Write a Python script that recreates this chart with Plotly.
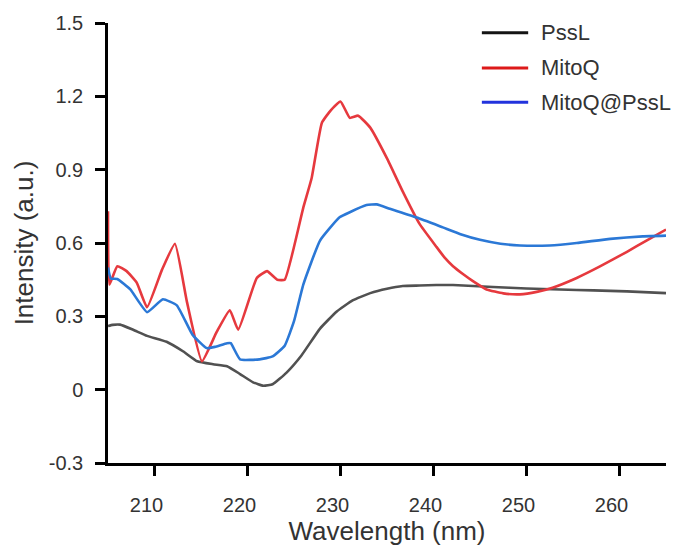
import plotly.graph_objects as go

# CD-style spectra: wavelength (nm) vs intensity (a.u.)
pssl_wl = [205.0, 205.5, 206.3, 207.7, 209.2, 211.3, 213.1, 214.6, 216.3, 217.8,
           219.2, 220.6, 221.7, 222.7, 224.2, 225.8, 227.8, 229.6, 231.3, 233.2,
           235.0, 236.7, 238.5, 240.3, 242.1, 246.4, 250.0, 253.6, 257.2, 260.8, 265.0]
pssl_int = [0.26, 0.265, 0.266, 0.245, 0.22, 0.196, 0.156, 0.116, 0.104, 0.096,
            0.064, 0.03, 0.016, 0.022, 0.07, 0.14, 0.25, 0.32, 0.365, 0.395,
            0.413, 0.424, 0.426, 0.428, 0.428, 0.42, 0.414, 0.41, 0.406, 0.402, 0.395]

mitoq_wl = [205.0, 205.15, 206.0, 207.0, 208.1, 209.2, 210.8, 212.2, 213.5, 215.1,
            216.7, 218.1, 219.0, 221.0, 222.1, 223.2, 224.0, 226.0, 226.9, 228.0,
            229.0, 230.0, 231.0, 231.9, 233.2, 235.0, 236.7, 238.5, 240.3, 241.2,
            242.1, 243.2, 244.2, 245.7, 247.5, 249.3, 251.1, 252.8, 255.4, 257.9,
            260.8, 262.9, 265.0]
mitoq_int = [0.73, 0.43, 0.505, 0.485, 0.437, 0.337, 0.49, 0.597, 0.357, 0.116,
             0.237, 0.325, 0.245, 0.457, 0.485, 0.45, 0.45, 0.745, 0.866, 1.092,
             1.145, 1.179, 1.112, 1.121, 1.072, 0.946, 0.81, 0.678, 0.585, 0.54,
             0.505, 0.472, 0.445, 0.41, 0.394, 0.39, 0.4, 0.417, 0.457, 0.504,
             0.564, 0.61, 0.655]

combo_wl = [205.0, 205.3, 206.0, 207.4, 209.2, 210.9, 212.4, 214.1, 215.6, 216.5,
            217.8, 218.2, 219.2, 221.3, 222.7, 224.0, 225.0, 226.0, 227.8, 229.9,
            231.0, 232.8, 233.9, 235.3, 238.2, 241.0, 243.0, 245.0, 247.2, 249.3,
            252.5, 255.4, 259.0, 262.5, 265.0]
combo_int = [0.50, 0.455, 0.453, 0.41, 0.317, 0.37, 0.345, 0.224, 0.17, 0.175,
             0.19, 0.19, 0.124, 0.124, 0.136, 0.18, 0.28, 0.43, 0.61, 0.705,
             0.726, 0.755, 0.758, 0.74, 0.704, 0.664, 0.635, 0.613, 0.597, 0.59,
             0.59, 0.6, 0.617, 0.627, 0.63]

series_names = ["PssL", "MitoQ", "MitoQ@PssL"]
line_colors = ["#515151", "#e6393e", "#2b78d6"]
legend_colors = ["#141414", "#dd1a1a", "#2233dd"]

x_ticks = [210, 220, 230, 240, 250, 260]
y_ticks = [-0.3, 0, 0.3, 0.6, 0.9, 1.2, 1.5]
y_tick_text = ["-0.3", "0", "0.3", "0.6", "0.9", "1.2", "1.5"]

FONT = "Liberation Sans, Arial, sans-serif"
TEXT = "#333333"

fig = go.Figure()
for wl, vals, name, color in zip([pssl_wl, mitoq_wl, combo_wl],
                                 [pssl_int, mitoq_int, combo_int],
                                 series_names, line_colors):
    fig.add_trace(go.Scatter(x=wl, y=vals, mode="lines", name=name,
                             line=dict(color=color, width=2.6,
                                       shape="spline", smoothing=0.4),
                             showlegend=False))

# Legend drawn as line swatches with labels in the upper right
legend_y = [0.978, 0.898, 0.820]
for name, color, ly in zip(series_names, legend_colors, legend_y):
    fig.add_shape(type="line", xref="paper", yref="paper",
                  x0=0.670, x1=0.753, y0=ly, y1=ly,
                  line=dict(color=color, width=3))
    fig.add_annotation(xref="paper", yref="paper", x=0.772, y=ly,
                       text=name, showarrow=False, xanchor="left", yanchor="middle",
                       font=dict(family=FONT, size=22, color=TEXT))

axis_common = dict(showline=True, linecolor="black", linewidth=2.5,
                   ticks="outside", ticklen=10, tickwidth=2.5, tickcolor="black",
                   showgrid=False, zeroline=False,
                   tickfont=dict(family=FONT, size=20, color=TEXT))

fig.update_xaxes(range=[205, 265], tickvals=x_ticks,
                 ticklabelstandoff=12, ticklabelshift=-8,
                 title=dict(text="Wavelength (nm)",
                            font=dict(family=FONT, size=26, color=TEXT),
                            standoff=6),
                 **axis_common)
fig.update_yaxes(range=[-0.3, 1.5], tickvals=y_ticks, ticktext=y_tick_text,
                 ticklabelstandoff=8,
                 title=dict(text="Intensity (a.u.)",
                            font=dict(family=FONT, size=26, color=TEXT),
                            standoff=8),
                 **axis_common)

fig.update_layout(width=679, height=554,
                  margin=dict(l=108, r=13, t=14, b=91),
                  paper_bgcolor="white", plot_bgcolor="white")

fig.write_html("out.html")
